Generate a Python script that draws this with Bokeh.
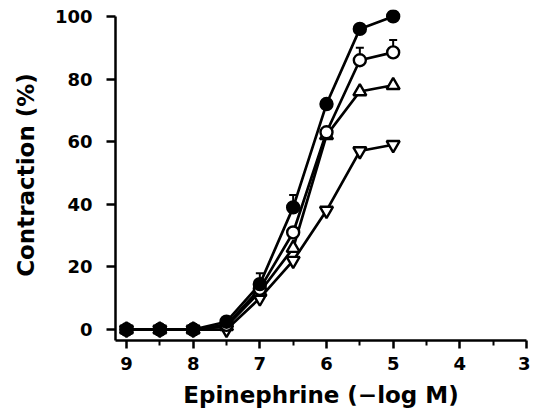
from bokeh.plotting import figure
from bokeh.models import Range1d, FixedTicker, Whisker, ColumnDataSource, TeeHead
from bokeh.embed import file_html
from bokeh.resources import INLINE

# Data
dose = [9, 8.5, 8, 7.5, 7, 6.5, 6, 5.5, 5]
filled_circle = [0, 0, 0, 2.5, 14.5, 39, 72, 96, 100]
open_circle = [0, 0, 0, 1.5, 13, 31, 63, 86, 88.5]
up_triangle = [0, 0, 0, 1, 12, 26, 62, 76, 78]
down_triangle = [0, 0, 0, 0, 10, 22, 38, 57, 59]

err_x = [7, 6.5, 5.5, 5]
err_value = [14.5, 39, 86, 88.5]
err_upper = [18, 43, 90, 92.5]

x_ticks = [9, 8, 7, 6, 5, 4, 3]
x_minor = [8.5, 7.5, 6.5, 5.5, 4.5, 3.5]
y_ticks = [0, 20, 40, 60, 80, 100]

FONT = "DejaVu Sans"

p = figure(width=530, height=410, output_backend="svg", toolbar_location=None,
           x_range=Range1d(9.165, 3), y_range=Range1d(-3.5, 102.2),
           min_border_left=115, min_border_right=4, min_border_top=9,
           min_border_bottom=70)
p.outline_line_color = None
p.xgrid.visible = False
p.ygrid.visible = False

for ax in (p.xaxis[0], p.yaxis[0]):
    ax.axis_line_width = 2.5
    ax.major_tick_line_width = 2.5
    ax.minor_tick_line_width = 2
    ax.major_tick_in = 0
    ax.minor_tick_in = 0
    ax.major_label_text_font = FONT
    ax.major_label_text_font_style = "bold"
    ax.major_label_text_font_size = "18px"
    ax.major_label_text_color = "black"
    ax.axis_label_text_font = FONT
    ax.axis_label_text_font_style = "bold"
    ax.axis_label_text_font_size = "23px"
    ax.axis_label_text_color = "black"

p.xaxis.ticker = FixedTicker(ticks=x_ticks, minor_ticks=x_minor)
p.xaxis.major_tick_out = 8
p.xaxis.minor_tick_out = 5
p.xaxis.major_label_standoff = 8
p.xaxis.axis_label = "Epinephrine (\u2212log M)"
p.xaxis.axis_label_standoff = 9

p.yaxis.ticker = FixedTicker(ticks=y_ticks, minor_ticks=[])
p.yaxis.bounds = (-3.5, 100)
p.yaxis.major_tick_out = 9
p.yaxis.minor_tick_out = 0
p.yaxis.major_label_standoff = 14
p.yaxis.axis_label = "Contraction (%)"
p.yaxis.axis_label_standoff = 13

# error bars
esrc = ColumnDataSource(dict(x=err_x, lower=err_value, upper=err_upper))
w = Whisker(source=esrc, base="x", upper="upper", lower="lower", dimension="height",
            line_width=2, line_color="black",
            upper_head=TeeHead(size=8, line_width=2, line_color="black"), lower_head=None)
p.add_layout(w)

series = [
    (down_triangle, "inverted_triangle", "white", 13),
    (up_triangle, "triangle", "white", 13),
    (open_circle, "circle", "white", 12),
    (filled_circle, "circle", "black", 12),
]
for ys, mk, fill, sz in series:
    p.line(dose, ys, line_color="black", line_width=2.7)
for ys, mk, fill, sz in series:
    p.scatter(dose, ys, marker=mk, size=sz, fill_color=fill, line_color="black", line_width=2.4)

open("out.html", "w").write(file_html(p, INLINE))
